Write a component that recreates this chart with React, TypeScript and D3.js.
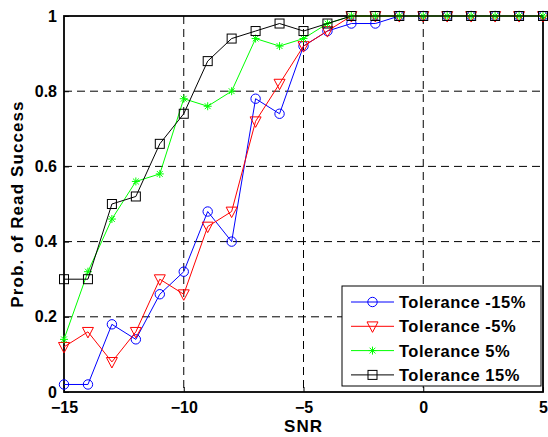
import React, { Component } from 'react'
import * as d3 from 'd3'

const snr = [-15, -14, -13, -12, -11, -10, -9, -8, -7, -6, -5, -4, -3, -2, -1, 0, 1, 2, 3, 4, 5]

const tolMinus15 = [0.02, 0.02, 0.18, 0.14, 0.26, 0.32, 0.48, 0.40, 0.78, 0.74, 0.92, 0.96, 0.98, 0.98, 1, 1, 1, 1, 1, 1, 1]
const tolMinus5 = [0.12, 0.16, 0.08, 0.16, 0.30, 0.26, 0.44, 0.48, 0.72, 0.82, 0.92, 0.96, 1, 1, 1, 1, 1, 1, 1, 1, 1]
const tolPlus5 = [0.14, 0.32, 0.46, 0.56, 0.58, 0.78, 0.76, 0.80, 0.94, 0.92, 0.94, 0.98, 1, 1, 1, 1, 1, 1, 1, 1, 1]
const tolPlus15 = [0.30, 0.30, 0.50, 0.52, 0.66, 0.74, 0.88, 0.94, 0.96, 0.98, 0.96, 0.98, 1, 1, 1, 1, 1, 1, 1, 1, 1]

const seriesNames = ['Tolerance -15%', 'Tolerance -5%', 'Tolerance 5%', 'Tolerance 15%']
const xTicks = [-15, -10, -5, 0, 5]
const yTicks = [0, 0.2, 0.4, 0.6, 0.8, 1]

export default class App extends Component {
  svgRef = React.createRef<SVGSVGElement>()

  componentDidMount() {
    var width = 548
    var height = 437
    var left = 64, right = 543, top = 16, bottom = 392
    var font = '"Liberation Sans", Arial, sans-serif'

    var x = d3.scaleLinear().domain([-15, 5]).range([left, right])
    var y = d3.scaleLinear().domain([0, 1]).range([bottom, top])

    var svg = d3.select(this.svgRef.current)
    svg.selectAll('*').remove()
    svg.attr('width', width).attr('height', height)

    svg.append('rect').attr('width', width).attr('height', height).attr('fill', '#fff')

    // grid
    var grid = svg.append('g').attr('stroke', '#000').attr('stroke-width', 1).attr('stroke-dasharray', '8,5')
    grid.selectAll('.gx')
      .data(xTicks.slice(1, -1))
      .enter().append('line')
      .attr('x1', d => x(d)).attr('x2', d => x(d))
      .attr('y1', top).attr('y2', bottom)
    grid.selectAll('.gy')
      .data(yTicks.slice(1, -1))
      .enter().append('line')
      .attr('y1', d => y(d)).attr('y2', d => y(d))
      .attr('x1', left).attr('x2', right)

    // axes with inward ticks
    var xAxis = d3.axisBottom(x).tickValues(xTicks).tickSizeInner(-5).tickSizeOuter(0).tickFormat(d3.format('d'))
    var yAxis = d3.axisLeft(y).tickValues(yTicks).tickSizeInner(-5).tickSizeOuter(0).tickFormat(d => String(+d))

    var gx = svg.append('g').attr('transform', 'translate(0,' + bottom + ')').call(xAxis)
    var gy = svg.append('g').attr('transform', 'translate(' + left + ',0)').call(yAxis)
    ;[gx, gy].forEach(g => {
      g.select('.domain').remove()
      g.selectAll('text')
        .attr('font-family', font).attr('font-size', 16).attr('font-weight', 'bold').attr('fill', '#000')
      g.selectAll('line').attr('stroke', '#000')
    })
    gx.selectAll('text').attr('dy', null).attr('y', 21)
    gy.selectAll('text').attr('x', -7)

    // the box
    svg.append('rect')
      .attr('x', left).attr('y', top)
      .attr('width', right - left).attr('height', bottom - top)
      .attr('fill', 'none').attr('stroke', '#000').attr('stroke-width', 1.8)

    // axis titles
    svg.append('text')
      .attr('x', (left + right) / 2).attr('y', 432)
      .attr('text-anchor', 'middle')
      .attr('font-family', font).attr('font-size', 17).attr('font-weight', 'bold')
      .attr('letter-spacing', 1)
      .text('SNR')
    svg.append('text')
      .attr('transform', 'translate(23,' + (top + bottom) / 2 + ') rotate(-90)')
      .attr('text-anchor', 'middle')
      .attr('font-family', font).attr('font-size', 17).attr('font-weight', 'bold')
      .attr('letter-spacing', 1.1)
      .text('Prob. of Read Success')

    var series = [
      { name: seriesNames[0], values: tolMinus15, color: '#0000ff', marker: 'circle' },
      { name: seriesNames[1], values: tolMinus5, color: '#ff0000', marker: 'triangle' },
      { name: seriesNames[2], values: tolPlus5, color: '#00ff00', marker: 'star' },
      { name: seriesNames[3], values: tolPlus15, color: '#000000', marker: 'square' }
    ]

    function drawMarker(g: any, kind: string, color: string, cx: number, cy: number) {
      if (kind === 'circle') {
        g.append('circle').attr('cx', cx).attr('cy', cy).attr('r', 4.7)
          .attr('fill', 'none').attr('stroke', color).attr('stroke-width', 1)
      } else if (kind === 'triangle') {
        var s = 5.5
        g.append('path')
          .attr('d', 'M' + (cx - s) + ',' + (cy - s * 0.8) + 'L' + (cx + s) + ',' + (cy - s * 0.8) + 'L' + cx + ',' + (cy + s * 1.1) + 'Z')
          .attr('fill', 'none').attr('stroke', color).attr('stroke-width', 1)
      } else if (kind === 'square') {
        g.append('rect').attr('x', cx - 4.5).attr('y', cy - 4.5).attr('width', 9).attr('height', 9)
          .attr('fill', 'none').attr('stroke', color).attr('stroke-width', 1)
      } else {
        var r = 4, d = 2.9
        g.append('path')
          .attr('d', 'M' + (cx - r) + ',' + cy + 'H' + (cx + r) + 'M' + cx + ',' + (cy - r) + 'V' + (cy + r) +
            'M' + (cx - d) + ',' + (cy - d) + 'L' + (cx + d) + ',' + (cy + d) +
            'M' + (cx - d) + ',' + (cy + d) + 'L' + (cx + d) + ',' + (cy - d))
          .attr('fill', 'none').attr('stroke', color).attr('stroke-width', 1)
      }
    }

    var line = d3.line<number>().x((d, i) => x(snr[i])).y(d => y(d))

    series.forEach(s => {
      var g = svg.append('g')
      g.append('path').attr('d', line(s.values))
        .attr('fill', 'none').attr('stroke', s.color).attr('stroke-width', 1)
      s.values.forEach((v, i) => drawMarker(g, s.marker, s.color, x(snr[i]), y(v)))
    })

    // legend
    var lg = svg.append('g')
    lg.append('rect')
      .attr('x', 342).attr('y', 286).attr('width', 199).attr('height', 100)
      .attr('fill', '#fff').attr('stroke', '#000').attr('stroke-width', 1)
    series.forEach((s, i) => {
      var yy = 302 + i * 24.3
      lg.append('line').attr('x1', 351).attr('x2', 394).attr('y1', yy).attr('y2', yy)
        .attr('stroke', s.color).attr('stroke-width', 1)
      drawMarker(lg, s.marker, s.color, 372.5, yy)
      lg.append('text').attr('x', 399).attr('y', yy + 6)
        .attr('font-family', font).attr('font-size', 16.5).attr('font-weight', 'bold')
        .attr('letter-spacing', 0.5)
        .text(s.name)
    })
  }

  render() {
    return (
      <svg ref={this.svgRef} style={{ position: 'absolute', left: 0, top: 0 }} />
    )
  }
}
